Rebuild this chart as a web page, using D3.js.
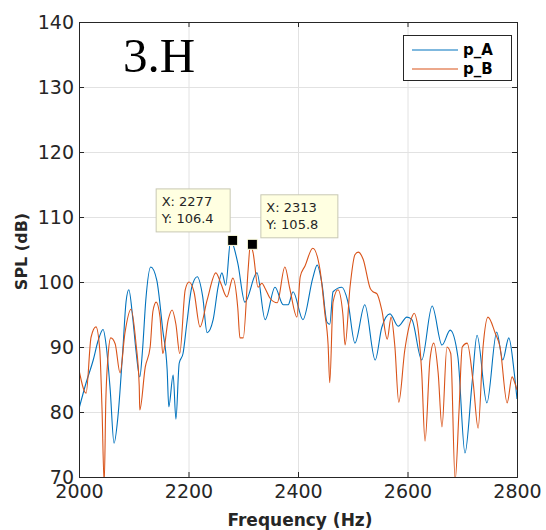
<!DOCTYPE html>
<html>
<head>
<meta charset="utf-8">
<script src="https://cdn.jsdelivr.net/npm/d3@7"></script>
<style>
  html, body { margin: 0; padding: 0; background: #fff; }
  svg { display: block; }
</style>
</head>
<body>
<div id="chart"></div>
<script>
// --- Data ---
const freqA = [2000, 2013, 2026, 2035, 2044, 2050, 2057, 2064, 2071, 2080, 2086, 2091, 2098, 2104, 2111,
  2116, 2122, 2131, 2142, 2153, 2161, 2164, 2172, 2177, 2183, 2190, 2197, 2206, 2216, 2226, 2234, 2245,
  2254, 2261, 2268, 2277, 2290, 2303, 2325, 2340, 2358, 2373, 2382, 2391, 2409, 2427, 2435, 2444, 2453,
  2458, 2464, 2480, 2491, 2504, 2522, 2541, 2553, 2568, 2583, 2599, 2608, 2626, 2645, 2663, 2678, 2692,
  2705, 2718, 2727, 2745, 2763, 2774, 2785, 2795, 2800];
const splA = [80.5, 84.5, 88, 91, 92.7, 90, 83.4, 75.2, 79.2, 89.5, 97, 98.8, 94.6, 89.5, 85.4,
  89.5, 97.2, 102.3, 100.3, 92.6, 86.5, 80.8, 85.7, 78.9, 87.5, 89, 93.7, 99.2, 100.8, 97.7, 92.2, 94.2,
  99.2, 101.4, 99.5, 106.4, 102.9, 96.9, 101.4, 94.2, 99.2, 96.5, 96.5, 98.5, 94.2, 100.6, 102.6, 99.6, 93.8,
  93.5, 98.5, 99.2, 97, 90.6, 96.5, 88, 93, 95.1, 93.2, 94.6, 94.2, 88, 96.3, 90.3, 92.6, 88.5,
  73.7, 84.5, 91.8, 81.4, 92.3, 88, 91.4, 86, 82];

const freqB = [2000, 2013, 2022, 2031, 2038, 2042, 2046, 2049, 2053, 2058, 2066, 2075, 2084, 2095, 2104,
  2110, 2111, 2121, 2130, 2135, 2141, 2148, 2153, 2163, 2170, 2177, 2184, 2194, 2201, 2210, 2221, 2234,
  2250, 2259, 2270, 2281, 2290, 2294, 2300, 2309, 2313, 2318, 2327, 2334, 2340, 2349, 2362, 2376, 2385,
  2398, 2404, 2413, 2427, 2440, 2449, 2455, 2458, 2464, 2473, 2482, 2486, 2495, 2504, 2510, 2519, 2532,
  2537, 2544, 2553, 2563, 2570, 2577, 2584, 2595, 2608, 2612, 2619, 2626, 2632, 2641, 2648, 2656, 2663,
  2672, 2679, 2687, 2694, 2700, 2709, 2720, 2729, 2738, 2747, 2760, 2769, 2782, 2791, 2796, 2800];
const splB = [86.5, 82.9, 91.5, 93.1, 89.5, 80.6, 69, 81.8, 88.5, 91.4, 90.5, 86, 92.2, 95.8, 90.6,
  84, 80.3, 86.9, 90, 95.5, 96.9, 94.6, 89, 94.2, 95.7, 93.5, 89, 98.8, 100, 98.5, 93.1, 97.2,
  101.4, 99.8, 97.7, 100.6, 96, 91.4, 91.4, 102, 105.8, 104.5, 99.2, 99.8, 99, 97.5, 96.8, 102.3, 99,
  94.6, 100.8, 102.5, 105.2, 102, 95.2, 90.3, 84.5, 96.9, 98.8, 95, 90.3, 99.2, 104.2, 104.6, 103.5, 99,
  98.5, 98.2, 95.7, 91.2, 94.6, 90, 81.5, 89.5, 94.6, 95.2, 93, 86, 75.5, 88, 90.6, 86, 77.7,
  90, 89, 69.5, 80, 90, 90.6, 84.5, 77.5, 90, 94.6, 92.2, 90, 81.4, 85.4, 84.5, 83.4];

const xTicks = [2000, 2200, 2400, 2600, 2800];
const yTicks = [70, 80, 90, 100, 110, 120, 130, 140];
const seriesNames = ["p_A", "p_B"];
const dataTips = [
  { x: 2277, y: 106.4 },
  { x: 2313, y: 105.8 }
];

// --- Dimensions ---
const width = 546, height = 530;
const margin = { top: 22, right: 29, bottom: 53, left: 79 };
const innerW = width - margin.left - margin.right;
const innerH = height - margin.top - margin.bottom;
const axisColor = "#262626";
const colors = ["#0072BD", "#D95319"];

const svg = d3.select("#chart").append("svg")
  .attr("width", width)
  .attr("height", height)
  .style("font-family", "'DejaVu Sans', sans-serif");

const x = d3.scaleLinear().domain([2000, 2800]).range([margin.left, margin.left + innerW]);
const y = d3.scaleLinear().domain([70, 140]).range([margin.top + innerH, margin.top]);

// --- Grid ---
const grid = svg.append("g").attr("stroke", "#e2e2e2").attr("stroke-width", 1);
grid.selectAll(".gx").data(xTicks.slice(1, -1)).enter().append("line")
  .attr("x1", d => x(d) + 0.5).attr("x2", d => x(d) + 0.5)
  .attr("y1", margin.top).attr("y2", margin.top + innerH);
grid.selectAll(".gy").data(yTicks.slice(1, -1)).enter().append("line")
  .attr("y1", d => y(d) + 0.5).attr("y2", d => y(d) + 0.5)
  .attr("x1", margin.left).attr("x2", margin.left + innerW);

// --- Lines ---
svg.append("clipPath").attr("id", "clip")
  .append("rect")
  .attr("x", margin.left).attr("y", margin.top)
  .attr("width", innerW).attr("height", innerH);

const line = d3.line()
  .x(d => x(d[0]))
  .y(d => y(d[1]))
  .curve(d3.curveMonotoneX);

const series = [d3.zip(freqA, splA), d3.zip(freqB, splB)];
svg.append("g").attr("clip-path", "url(#clip)")
  .selectAll("path")
  .data(series)
  .enter()
  .append("path")
  .attr("fill", "none")
  .attr("stroke", (d, i) => colors[i])
  .attr("stroke-width", 1.1)
  .attr("d", line);

// --- Axes (inward ticks, box on) ---
const tickLen = 5;
const xAxis = svg.append("g")
  .attr("transform", `translate(0,${margin.top + innerH})`)
  .call(d3.axisBottom(x).tickValues(xTicks).tickSize(-tickLen).tickPadding(11).tickFormat(d3.format("d")));
const xAxisTop = svg.append("g")
  .attr("transform", `translate(0,${margin.top})`)
  .call(d3.axisTop(x).tickValues(xTicks).tickSize(-tickLen).tickFormat(""));
const yAxis = svg.append("g")
  .attr("transform", `translate(${margin.left},0)`)
  .call(d3.axisLeft(y).tickValues(yTicks).tickSize(-tickLen).tickPadding(5));
const yAxisRight = svg.append("g")
  .attr("transform", `translate(${margin.left + innerW},0)`)
  .call(d3.axisRight(y).tickValues(yTicks).tickSize(-tickLen).tickFormat(""));

[xAxis, xAxisTop, yAxis, yAxisRight].forEach(g => {
  g.select(".domain").attr("stroke", axisColor);
  g.selectAll(".tick line").attr("stroke", axisColor);
  g.selectAll(".tick text")
    .attr("fill", axisColor)
    .attr("font-size", 19)
    .attr("font-family", "'DejaVu Sans', sans-serif");
});
xAxis.selectAll(".tick text").attr("dy", "0.55em");

// --- Axis labels ---
svg.append("text")
  .attr("x", margin.left + innerW / 2 + 2)
  .attr("y", 526)
  .attr("text-anchor", "middle")
  .attr("font-size", 17)
  .attr("font-weight", "bold")
  .attr("fill", axisColor)
  .text("Frequency (Hz)");

svg.append("text")
  .attr("transform", `translate(27,${margin.top + innerH / 2 + 2}) rotate(-90)`)
  .attr("text-anchor", "middle")
  .attr("font-size", 16)
  .attr("font-weight", "bold")
  .attr("fill", axisColor)
  .text("SPL (dB)");

// --- Title inside axes ---
svg.append("text")
  .attr("x", 123)
  .attr("y", 72)
  .attr("font-family", "'Liberation Serif', serif")
  .attr("font-size", 49)
  .attr("fill", "#000")
  .text("3.H");

// --- Legend ---
const legend = svg.append("g").attr("transform", "translate(403,35)");
legend.append("rect")
  .attr("x", 0.5).attr("y", 0.5)
  .attr("width", 108).attr("height", 45)
  .attr("fill", "#fff")
  .attr("stroke", axisColor)
  .attr("stroke-width", 1);
seriesNames.forEach((name, i) => {
  const ly = 15 + i * 19;
  legend.append("line")
    .attr("x1", 9).attr("x2", 55)
    .attr("y1", ly).attr("y2", ly)
    .attr("stroke", colors[i])
    .attr("stroke-width", 1.1);
  legend.append("text")
    .attr("x", 60).attr("y", ly)
    .attr("dy", "0.35em")
    .attr("font-size", 15)
    .attr("font-weight", "bold")
    .attr("fill", "#000")
    .text(name);
});

// --- Data tips ---
const tipOffsets = [
  { dx: -75, dy: -52 },
  { dx: 10, dy: -50 }
];
const tipW = [74, 77];
dataTips.forEach((t, i) => {
  const px = x(t.x) + 2, py = y(t.y);
  const bx = px + tipOffsets[i].dx - 2, by = py + tipOffsets[i].dy;
  const g = svg.append("g");
  g.append("rect")
    .attr("x", bx + 0.5).attr("y", by + 0.5)
    .attr("width", tipW[i]).attr("height", 43)
    .attr("fill", "#ffffe1")
    .attr("stroke", "#c8c8b4");
  g.append("text")
    .attr("x", bx + 6).attr("y", by + 18)
    .attr("font-size", 13)
    .attr("fill", "#262626")
    .text(`X: ${t.x}`);
  g.append("text")
    .attr("x", bx + 6).attr("y", by + 35)
    .attr("font-size", 13)
    .attr("fill", "#262626")
    .text(`Y: ${t.y}`);
  g.append("rect")
    .attr("x", px - 5).attr("y", py - 5)
    .attr("width", 10).attr("height", 10)
    .attr("fill", "#000")
    .attr("stroke", "#ffffe1")
    .attr("stroke-width", 1);
});
</script>
</body>
</html>
